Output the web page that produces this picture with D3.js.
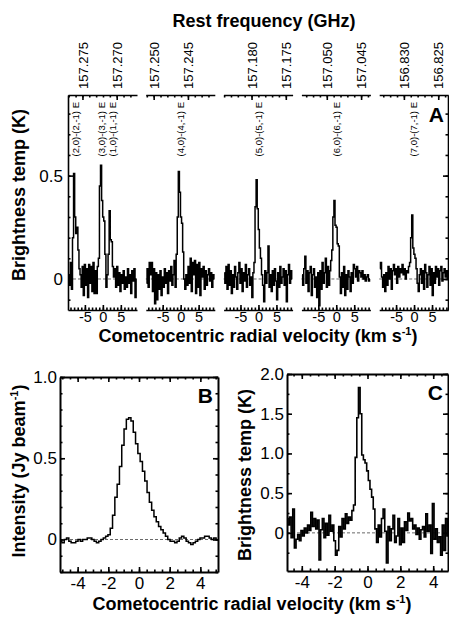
<!DOCTYPE html>
<html>
<head>
<meta charset="utf-8">
<script src="https://cdn.jsdelivr.net/npm/d3@7"></script>
<style>
  body { margin: 0; background: #fff; }
  svg { font-family: "Liberation Sans", Arial, Helvetica, sans-serif; }
</style>
</head>
<body>
<div id="chart"></div>
<script>
// DATA

// panel A: one spectrum per sub-panel, channels start at -9.5 km/s, 0.3 km/s apart
var chanStartA = -9.5, chanStepA = 0.3;
var specA1 = [0.02, -0.03, 0.08, -0.05, 0.20, 0.51, 0.30, 0.22, 0.25, 0.14, 0.05, 0.02, -0.04, 0.06, -0.08, 0.07,
  -0.03, 0.05, -0.09, 0.07, -0.02, 0.06, -0.06, 0.08, -0.07, 0.04, -0.07, 0.06, 0.10, 0.45, 0.55, 0.38,
  0.30, 0.28, 0.12, -0.04, 0.02, 0.12, 0.33, 0.19, 0.18, 0.06, 0.01, 0.05, -0.04, 0.06, -0.03, 0.03,
  -0.06, 0.02, -0.02, 0.04, -0.05, 0.01, -0.04, 0.05, -0.02, 0.02, -0.07, 0.04, -0.01, 0.05, -0.09, 0.00];
var specA2 = [-0.02, 0.05, -0.04, 0.08, 0.02, 0.08, -0.06, 0.05, -0.12, 0.03, -0.10, 0.02, -0.05, 0.04, -0.08, 0.01,
  -0.04, 0.05, -0.02, 0.03, -0.07, 0.04, -0.01, 0.06, -0.03, 0.02, 0.09, -0.04, 0.12, 0.30, 0.52, 0.42,
  0.30, 0.27, 0.13, 0.00, -0.05, 0.02, -0.03, 0.06, -0.02, 0.10, -0.06, 0.08, 0.02, 0.09, -0.07, 0.07,
  -0.04, 0.08, -0.08, 0.05, 0.01, 0.06, -0.05, 0.04, -0.03, 0.02, 0.05, -0.01, 0.03, -0.04, 0.02, 0.00];
var specA3 = [0.03, -0.02, 0.06, -0.05, 0.07, -0.03, 0.04, -0.07, 0.02, -0.04, 0.06, 0.01, -0.05, 0.03, 0.08, -0.02,
  0.05, -0.06, 0.03, -0.01, 0.07, -0.04, 0.02, 0.05, -0.03, 0.01, -0.09, 0.03, 0.08, 0.35, 0.48, 0.34,
  0.24, 0.15, 0.10, 0.02, -0.03, -0.11, 0.04, -0.02, 0.03, 0.16, -0.04, 0.02, -0.06, 0.04, -0.03, 0.05,
  -0.01, -0.10, 0.03, -0.04, 0.06, -0.02, 0.01, 0.05, -0.03, 0.04, -0.11, 0.02, 0.07, -0.02, 0.04, 0.00];
var specA4 = [0.02, -0.03, 0.05, 0.11, -0.02, 0.04, -0.06, 0.03, 0.06, -0.08, 0.02, 0.05, -0.04, 0.01, -0.09, 0.03,
  -0.13, 0.04, -0.05, 0.08, -0.02, 0.03, 0.10, -0.04, 0.06, -0.03, 0.04, 0.09, 0.14, 0.30, 0.38, 0.26,
  0.25, 0.17, 0.16, 0.01, -0.07, 0.03, -0.04, 0.06, -0.08, 0.02, -0.05, 0.04, 0.01, -0.06, 0.03, -0.02,
  0.07, 0.05, 0.01, 0.06, -0.01, 0.04, 0.03, 0.01, 0.04, 0.00, 0.02, -0.01, 0.01, 0.02, -0.01, 0.00];
var specA5 = [0.05, 0.08, 0.01, -0.04, 0.02, -0.06, 0.03, -0.03, 0.06, 0.00, 0.05, -0.05, 0.04, 0.07, 0.02, 0.05,
  -0.02, 0.06, 0.01, 0.05, 0.03, 0.07, 0.02, 0.05, 0.00, 0.04, 0.03, 0.06, 0.08, 0.20, 0.31, 0.15,
  0.12, 0.10, 0.05, -0.02, -0.06, 0.02, 0.05, -0.02, 0.04, -0.05, 0.07, 0.03, -0.04, 0.02, 0.06, -0.03,
  0.05, -0.08, 0.03, -0.02, 0.06, 0.01, 0.05, -0.03, 0.04, 0.06, -0.01, 0.03, 0.05, 0.01, 0.04, 0.00];

// rest frequencies (GHz): sub-panel centre and the labelled lines
var centreFreqs = [157.27202, 157.24606, 157.17899, 157.04862, 156.82852];
var lineFreqs = [[157.27602, 157.27202, 157.27085], [157.24606], [157.17899], [157.04862], [156.82852]];
var lineNames = [["(2,0)-(2,-1) E", "(3,0)-(3,-1) E", "(1,0)-(1,-1) E"], ["(4,0)-(4,-1) E"],
  ["(5,0)-(5,-1) E"], ["(6,0)-(6,-1) E"], ["(7,0)-(7,-1) E"]];
var freqTicks = [[157.275, 157.270], [157.250, 157.245], [157.180, 157.175], [157.050, 157.045], [156.830, 156.825]];
var velTicksA = [-5, 0, 5];
var tempTicksA = [0, 0.5];

// panel B: channels start at -5.1 km/s, 0.15 km/s apart
var chanStartB = -5.1, chanStepB = 0.15;
var specB = [-0.01, -0.02, 0.00, 0.01, -0.01, -0.02, -0.02, -0.01, 0.00, -0.01, 0.00, 0.00, 0.01, 0.01, 0.00, -0.01,
  -0.02, -0.01, 0.00, 0.01, 0.02, 0.03, 0.07, 0.15, 0.26, 0.34, 0.45, 0.58, 0.68, 0.74, 0.75, 0.73,
  0.66, 0.59, 0.53, 0.48, 0.42, 0.36, 0.29, 0.23, 0.18, 0.14, 0.11, 0.08, 0.06, 0.04, 0.02, 0.00,
  -0.01, -0.01, -0.02, -0.01, 0.01, 0.02, 0.01, -0.01, -0.02, -0.03, -0.02, -0.01, 0.00, 0.01, 0.01, 0.02,
  0.02, 0.01, 0.00, 0.01, 0.00];
var intensityTicksB = [0, 0.5, 1.0];

// panel C: channels start at -4.9 km/s, 0.1 km/s apart
var chanStartC = -4.9, chanStepC = 0.1;
var specC = [0.18, 0.10, 0.20, -0.06, 0.30, -0.19, -0.08, -0.02, -0.10, 0.03, -0.04, 0.06, 0.00, 0.10, 0.03, 0.26,
  0.08, 0.18, 0.05, 0.16, -0.34, 0.04, 0.18, -0.06, 0.12, -0.03, 0.22, 0.02, 0.10, -0.10, -0.28, -0.22,
  0.08, -0.05, 0.18, 0.05, 0.24, 0.12, 0.20, 0.16, 0.28, 0.35, 0.95, 1.45, 1.83, 1.50, 0.98, 0.92,
  0.88, 0.78, 0.66, 0.55, 0.45, 0.30, 0.05, -0.12, 0.10, -0.05, 0.18, 0.30, 0.02, -0.38, 0.08, -0.10,
  0.05, 0.22, -0.12, -0.04, 0.18, -0.15, 0.06, -0.12, 0.14, 0.03, 0.25, 0.15, 0.18, 0.05, 0.10, -0.02,
  0.06, -0.08, 0.04, 0.08, -0.05, 0.24, 0.02, 0.10, -0.26, 0.37, -0.08, 0.05, -0.12, -0.05, -0.28, 0.10,
  -0.22, 0.18, -0.04];
var tempTicksC = [0, 0.5, 1.0, 1.5, 2.0];
var velTicksBC = [-4, -2, 0, 2, 4];

// SETUP

var width = 449;
var height = 618;
var C_KMS = 299792.458;

var svg = d3.select("#chart")
    .append("svg")
    .attr("width", width)
    .attr("height", height);

function channels(values, start, step) {
    return values.map(function (t, i) {
        return { v: start + i * step, t: t };
    });
}

function numLabel(d) {
    return d === 0 ? "0" : d.toFixed(1);
}

function styleAxis(g, size) {
    g.selectAll("path, line").attr("stroke", "#000").attr("stroke-width", 1.6);
    g.selectAll("text").attr("font-size", size).attr("font-family", null).attr("fill", "#000");
}

// PANEL A

var aTop = 95, aBottom = 310, aLeft = 68, aRight = 448;
var subWidth = 69, subStep = 77.8;
var velDomainA = [-9.7, 9.5];

var yA = d3.scaleLinear()
    .domain([-0.15, 0.89])
    .range([aBottom, aTop]);

var spectraA = [specA1, specA2, specA3, specA4, specA5];

spectraA.forEach(function (spec, i) {
    var x0 = aLeft + i * subStep;
    var x = d3.scaleLinear().domain(velDomainA).range([x0, x0 + subWidth]);
    var f0 = centreFreqs[i];
    var f = d3.scaleLinear()
        .domain(velDomainA.map(function (v) { return f0 * (1 - v / C_KMS); }))
        .range([x0, x0 + subWidth]);

    // dashed zero line
    svg.append("line")
        .attr("x1", x0).attr("x2", x0 + subWidth)
        .attr("y1", yA(0)).attr("y2", yA(0))
        .attr("stroke", "#444").attr("stroke-width", 0.8)
        .attr("stroke-dasharray", "3,2");

    // bottom velocity axis
    var gb = svg.append("g").attr("transform", "translate(0," + aBottom + ")");
    gb.call(d3.axisBottom(x).tickValues(d3.range(-9, 10, 1)).tickSize(-2.5).tickSizeOuter(0).tickFormat(""));
    styleAxis(gb, 0);
    var gb2 = svg.append("g").attr("transform", "translate(0," + aBottom + ")");
    gb2.call(d3.axisBottom(x).tickValues(velTicksA).tickSize(-5).tickPadding(2).tickFormat(String));
    gb2.select(".domain").remove();
    styleAxis(gb2, 14.5);

    // top frequency axis
    var fd = f.domain();
    var minor = d3.range(Math.ceil(fd[1] * 1000), Math.floor(fd[0] * 1000) + 1).map(function (k) { return k / 1000; });
    var gt = svg.append("g").attr("transform", "translate(0," + aTop + ")");
    gt.call(d3.axisTop(f).tickValues(minor).tickSize(-2.5).tickSizeOuter(0).tickFormat(""));
    styleAxis(gt, 0);
    var gt2 = svg.append("g").attr("transform", "translate(0," + aTop + ")");
    gt2.call(d3.axisTop(f).tickValues(freqTicks[i]).tickSize(-5).tickFormat(d3.format(".3f")));
    gt2.select(".domain").remove();
    styleAxis(gt2, 13);
    gt2.selectAll("text")
        .attr("transform", "rotate(-90)")
        .attr("x", 6).attr("y", 0).attr("dy", "0.36em")
        .attr("text-anchor", "start");

    // spectrum
    svg.append("path")
        .datum(channels(spec, chanStartA, chanStepA))
        .attr("fill", "none")
        .attr("stroke", "#000")
        .attr("stroke-width", 1.5)
        .attr("d", d3.line()
            .x(function (d) { return x(d.v); })
            .y(function (d) { return yA(d.t); })
            .curve(d3.curveStep));

    // transition labels, pushed apart when two lines sit close together
    var lx = lineFreqs[i].map(function (fl) { return x((1 - fl / f0) * C_KMS); });
    for (var k = 1; k < lx.length; k++) {
        var gap = lx[k] - lx[k - 1];
        if (gap < 11) {
            lx[k - 1] -= (11 - gap) / 2;
            lx[k] += (11 - gap) / 2;
        }
    }
    lx.forEach(function (px, j) {
        svg.append("text")
            .attr("transform", "translate(" + px + ",102) rotate(-90)")
            .attr("dy", "0.36em")
            .attr("text-anchor", "end")
            .attr("font-size", 9.5)
            .text(lineNames[i][j]);
    });
});

// left and right temperature axes of panel A
var minorA = d3.range(-1, 9, 1).map(function (k) { return k / 10; });
var gl = svg.append("g").attr("transform", "translate(" + aLeft + ",0)");
gl.call(d3.axisLeft(yA).tickValues(minorA).tickSize(-2.5).tickSizeOuter(0).tickFormat(""));
styleAxis(gl, 0);
var gl2 = svg.append("g").attr("transform", "translate(" + aLeft + ",0)");
gl2.call(d3.axisLeft(yA).tickValues(tempTicksA).tickSize(-5).tickPadding(5).tickFormat(numLabel));
gl2.select(".domain").remove();
styleAxis(gl2, 17);
var gr = svg.append("g").attr("transform", "translate(" + aRight + ",0)");
gr.call(d3.axisRight(yA).tickValues(minorA).tickSize(-2.5).tickSizeOuter(0).tickFormat(""));
styleAxis(gr, 0);
var gr2 = svg.append("g").attr("transform", "translate(" + aRight + ",0)");
gr2.call(d3.axisRight(yA).tickValues(tempTicksA).tickSize(-5).tickFormat(""));
gr2.select(".domain").remove();
styleAxis(gr2, 0);

svg.append("text")
    .attr("x", 444).attr("y", 122)
    .attr("text-anchor", "end")
    .attr("font-size", 21).attr("font-weight", "bold")
    .text("A");

// PANELS B AND C

function boxPanel(x, y, xMinor, yMinor, yMajor, label) {
    var r = x.range(), b = y.range();
    svg.append("line")
        .attr("x1", r[0]).attr("x2", r[1])
        .attr("y1", y(0)).attr("y2", y(0))
        .attr("stroke", "#444").attr("stroke-width", 0.8)
        .attr("stroke-dasharray", "3,2");

    var sides = [
        { axis: d3.axisBottom(x), t: "translate(0," + b[0] + ")", minor: xMinor, major: velTicksBC, fmt: String, pad: 5 },
        { axis: d3.axisTop(x), t: "translate(0," + b[1] + ")", minor: xMinor, major: velTicksBC, fmt: null },
        { axis: d3.axisLeft(y), t: "translate(" + r[0] + ",0)", minor: yMinor, major: yMajor, fmt: numLabel, pad: 3 },
        { axis: d3.axisRight(y), t: "translate(" + r[1] + ",0)", minor: yMinor, major: yMajor, fmt: null }
    ];
    sides.forEach(function (s) {
        var g1 = svg.append("g").attr("transform", s.t);
        g1.call(s.axis.tickValues(s.minor).tickSize(-2.5).tickSizeOuter(0).tickFormat(""));
        styleAxis(g1, 0);
        g1.select(".domain").attr("stroke-width", 2);
        var g2 = svg.append("g").attr("transform", s.t);
        g2.call(s.axis.tickValues(s.major).tickSize(-5).tickPadding(s.pad || 3).tickFormat(s.fmt || ""));
        g2.select(".domain").remove();
        styleAxis(g2, 17);
    });

    svg.append("text")
        .attr("x", r[1] - 5).attr("y", b[1] + 26)
        .attr("text-anchor", "end")
        .attr("font-size", 21).attr("font-weight", "bold")
        .text(label);
}

var xB = d3.scaleLinear().domain([-5.15, 5.15]).range([60, 218]);
var yB = d3.scaleLinear().domain([-0.2, 1.0]).range([572, 377]);
boxPanel(xB, yB, d3.range(-5, 5.5, 0.5), d3.range(-2, 11, 1).map(function (k) { return k / 10; }), intensityTicksB, "B");

svg.append("path")
    .datum(channels(specB, chanStartB, chanStepB))
    .attr("fill", "none")
    .attr("stroke", "#000")
    .attr("stroke-width", 1.5)
    .attr("d", d3.line()
        .x(function (d) { return xB(d.v); })
        .y(function (d) { return yB(d.t); })
        .curve(d3.curveStep));

var xC = d3.scaleLinear().domain([-4.9, 4.9]).range([287, 448]);
var yC = d3.scaleLinear().domain([-0.48, 2.0]).range([571, 374]);
boxPanel(xC, yC, d3.range(-4.5, 5, 0.5), d3.range(-0.25, 2.1, 0.25), tempTicksC, "C");

svg.append("path")
    .datum(channels(specC, chanStartC, chanStepC))
    .attr("fill", "none")
    .attr("stroke", "#000")
    .attr("stroke-width", 1.6)
    .attr("d", d3.line()
        .x(function (d) { return xC(d.v); })
        .y(function (d) { return yC(d.t); })
        .curve(d3.curveStep));

// TITLES

function title(x, y, rotate, parts) {
    var t = svg.append("text")
        .attr("transform", "translate(" + x + "," + y + ")" + (rotate ? " rotate(-90)" : ""))
        .attr("text-anchor", "middle")
        .attr("font-size", 18)
        .attr("font-weight", "bold");
    parts.forEach(function (p) {
        var s = t.append("tspan").text(p[0]);
        if (p[1] === "sup") s.attr("font-size", 11).attr("dy", -7);
        if (p[1] === "down") s.attr("dy", 7);
    });
}

title(264, 27, false, [["Rest frequency (GHz)"]]);
title(258, 342, false, [["Cometocentric radial velocity (km s"], ["-1", "sup"], [")", "down"]]);
title(252, 610, false, [["Cometocentric radial velocity (km s"], ["-1", "sup"], [")", "down"]]);
title(25, 195, true, [["Brightness temp (K)"]]);
title(25, 471, true, [["Intensity (Jy beam"], ["-1", "sup"], [")", "down"]]);
title(251, 475, true, [["Brightness temp (K)"]]);
</script>
</body>
</html>
